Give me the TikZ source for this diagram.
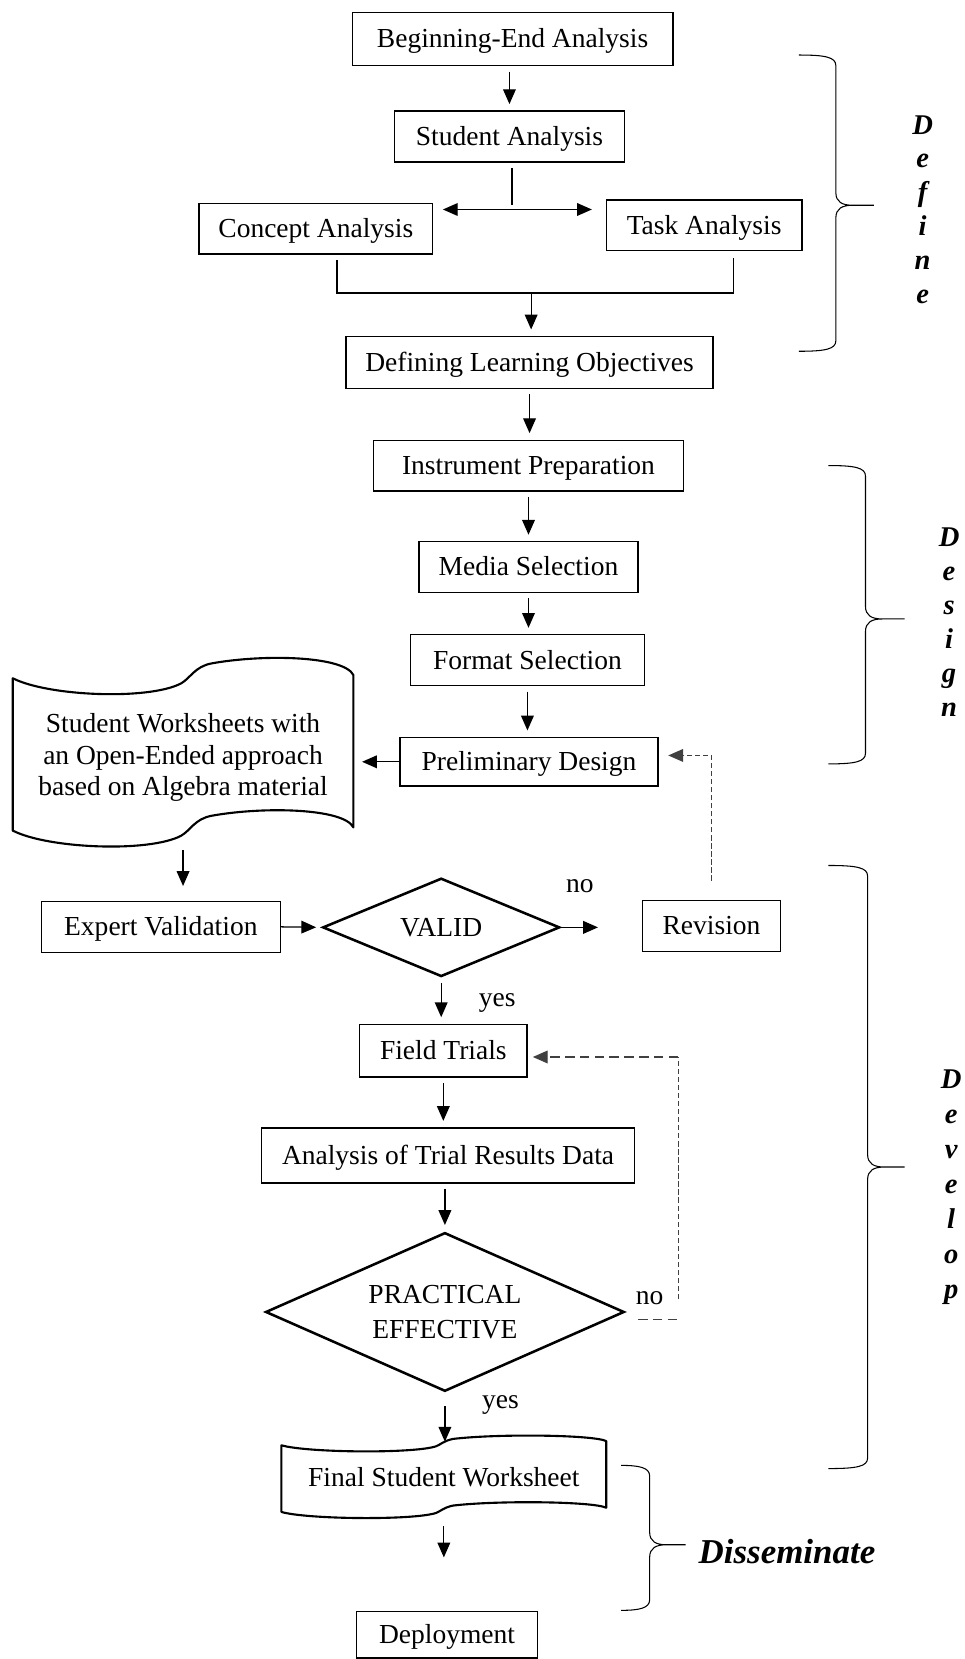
\documentclass[tikz,border=0pt]{standalone}
\usepackage{fontspec}
\setmainfont{Liberation Serif}
\usetikzlibrary{arrows.meta,shapes.geometric,calc}
\newcommand\phasebrace[6]{%
\draw[bracestyle] (#1,#4) .. controls (#2-10,#4) and (#2,#4+2) .. (#2,#4+10)
 -- (#2,#5-12) .. controls (#2,#5-3) and (#2+6,#5) .. (#2+16,#5) -- (#3,#5)
 (#2+16,#5) .. controls (#2+6,#5) and (#2,#5+3) .. (#2,#5+12)
 -- (#2,#6-10) .. controls (#2,#6-2) and (#2-10,#6) .. (#1,#6);}
\begin{document}
\begin{tikzpicture}[x=0.5pt,y=-0.5pt,
  every node/.style={font=\fontsize{13}{15}\selectfont},
  box/.style={draw,line width=0.6pt,inner sep=0pt,text height=10.5pt,text depth=2.2pt},
  decision/.style={draw,diamond,line width=1.2pt,inner sep=0pt,align=center},
  docshape/.style={draw,line width=1pt,line join=round},
  tip/.tip={Triangle[length=7pt,width=6pt]},
  arr/.style={-tip,line width=0.6pt,shorten <=2.5pt,shorten >=3pt},
  dbl/.style={tip-tip,line width=0.6pt},
  plain/.style={line width=0.6pt},
  dashfine/.style={line width=0.6pt,black!75,dash pattern=on 2.5pt off 1.3pt},
  dashwide/.style={line width=0.6pt,black!75,dash pattern=on 4.5pt off 2.5pt},
  bracestyle/.style={line width=0.5pt},
  phase/.style={font=\fontsize{13.5}{16}\selectfont\bfseries\itshape,align=center,inner sep=0pt},
]
\useasboundingbox (0,0) rectangle (912,1568);

% ---------- Define ----------
\node[box,minimum width=151.5pt,minimum height=25pt] (beg) at (484.5,37) {Beginning-End Analysis};
\node[box,minimum width=108.5pt,minimum height=24pt] (stud) at (481.5,129) {Student Analysis};
\node[box,minimum width=110.5pt,minimum height=24pt] (conc) at (298.5,216) {Concept Analysis};
\node[box,minimum width=92.5pt,minimum height=24pt] (task) at (665.5,213) {Task Analysis};
\node[box,minimum width=173.5pt,minimum height=24.5pt] (defo) at (500.5,342.5) {Defining Learning Objectives};

% ---------- Design ----------
\node[box,minimum width=146.5pt,minimum height=24pt] (inst) at (499.5,440) {Instrument Preparation};
\node[box,minimum width=103.5pt,minimum height=24pt] (media) at (499.5,536) {Media Selection};
\node[box,minimum width=110.5pt,minimum height=24pt] (format) at (498.5,624) {Format Selection};
\node[box,minimum width=122pt,minimum height=23pt] (prelim) at (500,720) {Preliminary Design};

% worksheet document shape
\draw[docshape] (12,641) .. controls (45,658) and (140,662) .. (171,646)
  .. controls (180,641) and (184,630) .. (200,627)
  .. controls (250,618) and (325,620) .. (334,638)
  -- (334,782) .. controls (325,764) and (250,762) .. (200,771)
  .. controls (184,774) and (180,785) .. (171,790)
  .. controls (140,806) and (45,802) .. (12,785) -- cycle;
\node[inner sep=0pt,minimum width=160.8pt,minimum height=70pt,align=center] (ws) at (173,716)
  {Student Worksheets with\\an Open-Ended approach\\based on Algebra material};

% ---------- Develop ----------
\node[box,minimum width=113pt,minimum height=24pt] (expert) at (152,876) {Expert Validation};
\node[decision,minimum width=112pt,minimum height=46.5pt,aspect=2.4,text height=10.5pt,text depth=2.2pt] (valid) at (417,876.5) {VALID};
\node[box,minimum width=65.5pt,minimum height=24pt] (rev) at (672.5,875) {Revision};
\node[box,minimum width=79pt,minimum height=25pt] (field) at (419,993) {Field Trials};
\node[box,minimum width=176.5pt,minimum height=26pt] (atr) at (423.5,1092) {Analysis of Trial Results Data};
\node[decision,minimum width=169.5pt,minimum height=75pt,aspect=2.26,font=\fontsize{13}{16.5}\selectfont] (pe) at (420.5,1240) {PRACTICAL\\EFFECTIVE};

% final worksheet shape
\draw[docshape] (266,1366) .. controls (290,1373) and (390,1374) .. (412,1367)
  .. controls (417,1365) and (419,1362) .. (428,1360)
  .. controls (470,1355) and (560,1356) .. (573,1362)
  -- (573,1425) .. controls (560,1419) and (470,1418) .. (428,1423)
  .. controls (419,1425) and (417,1428) .. (412,1430)
  .. controls (390,1437) and (290,1436) .. (266,1429) -- cycle;
\node[inner sep=0pt,minimum width=153.5pt,minimum height=34pt,text height=10.5pt,text depth=2.2pt] (fsw) at (419.5,1397) {Final Student Worksheet};

\node[box,minimum width=85.5pt,minimum height=22pt] (deploy) at (422.5,1545) {Deployment};

% ---------- labels ----------
\node (no1) at (548,838) {no};
\node (yes1) at (470,948) {yes};
\node (no2) at (614,1227) {no};
\node (yes2) at (473,1328) {yes};

% ---------- connectors ----------
\draw[arr] (beg.south -| stud.north) -- (stud.north);
\coordinate (spl) at (484,198);
\draw[plain] ([yshift=-2.5pt]stud.south -| spl) -- ([yshift=2pt]spl);
\draw[dbl] ([xshift=4.5pt]spl -| conc.east) -- ([xshift=-6.5pt]spl -| task.west);
\coordinate (merge) at (502,277);
\draw[plain] ([xshift=10pt,yshift=-2.5pt]conc.south) |- (merge) -| ([xshift=13.75pt,yshift=-3pt]task.south);
\draw[arr,shorten <=0pt] (merge) -- (merge |- defo.north);
\draw[arr] (defo.south) -- (defo.south |- inst.north);
\draw[arr] (inst.south) -- (inst.south |- media.north);
\draw[arr] (media.south) -- (media.south |- format.north);
\draw[arr] (format.south) -- (format.south |- prelim.north);
\draw[arr,shorten <=0pt,shorten >=4pt] (prelim.west) -- (prelim.west -| ws.east);
\draw[arr,shorten <=0pt,shorten >=7pt] ([yshift=-8.5pt]ws.south) -- (ws.south |- expert.north);
\draw[arr,shorten <=0pt,shorten >=2.5pt] (expert.east) -- (valid.west);
\draw[arr,shorten <=0pt,shorten >=0pt] (valid.east) -- ([xshift=17.5pt]valid.east);
\draw[dashfine,-tip] ([yshift=9pt]rev.north) |- ([xshift=4.5pt,yshift=3pt]prelim.east);
\draw[arr] (valid.south) -- (valid.south |- field.north);
\draw[arr] (field.south) -- (field.south |- atr.north);
\draw[arr] (atr.south -| pe.north) -- (pe.north);
\draw[arr,shorten <=6.5pt,shorten >=0pt] (pe.south) -- (pe.south |- fsw.north);
\coordinate (fend) at (420,1472);
\draw[arr,shorten <=5.5pt,shorten >=0pt] (fsw.south) -- (fsw.south |- fend);
% field trial loop
\coordinate (pn1) at (603,1247);
\coordinate (pn2) at (640,1247);
\coordinate (fl1) at (641,1228);
\coordinate (fl2) at (641,999);
\draw[dashwide] (pn1) -- (pn2);
\draw[dashfine] (fl1) -- (fl2);
\draw[dashwide,-tip,shorten >=2.5pt] (fl2) -- (fl2 -| field.east);

% ---------- braces ----------
\phasebrace{755}{790}{826}{52}{194}{332}
\phasebrace{783}{818}{855}{440}{585}{722}
\phasebrace{783}{820}{855}{818}{1103}{1388}
\phasebrace{587}{614}{648}{1385}{1460}{1522}
\node[phase] (pdef) at (872,198) {D\\e\\f\\i\\n\\e};
\node[phase] (pdes) at (897,588) {D\\e\\s\\i\\g\\n};
\node[phase,font=\fontsize{13.5}{16.6}\selectfont\bfseries\itshape] (pdev) at (899,1122) {D\\e\\v\\e\\l\\o\\p};
\node[font=\fontsize{16.5}{18}\selectfont\bfseries\itshape,anchor=west,inner sep=0pt] (pdis) at (660,1466) {Disseminate};
\end{tikzpicture}
\end{document}
